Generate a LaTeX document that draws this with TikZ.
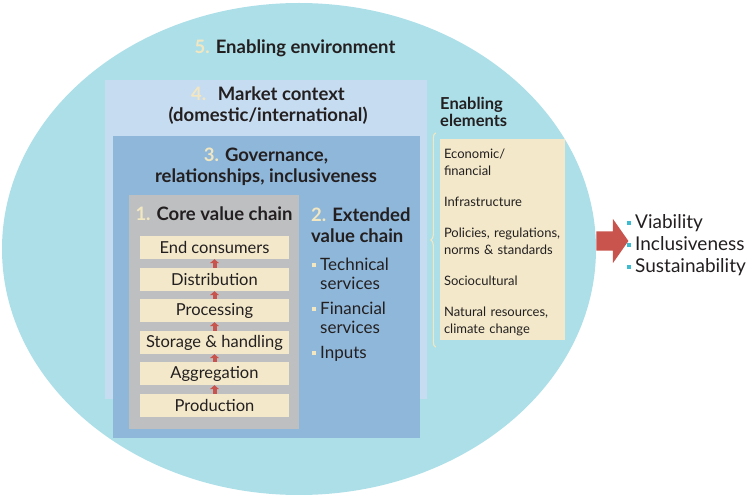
\documentclass[tikz,border=0pt]{standalone}
\usepackage{fontspec}
\setmainfont{Lato}
\usepackage{tikz}
\usetikzlibrary{arrows.meta,shapes.arrows,decorations.pathreplacing,calc}

\definecolor{envcol}{HTML}{ADDFE8}
\definecolor{mktcol}{HTML}{C6DCF0}
\definecolor{govcol}{HTML}{8FB7D9}
\definecolor{corecol}{HTML}{BEBFC1}
\definecolor{beige}{HTML}{F3E9CA}
\definecolor{numcol}{HTML}{F2E7C1}
\definecolor{arrowcol}{HTML}{C9544E}
\definecolor{cyanbul}{HTML}{3DBCCF}
\definecolor{ink}{HTML}{231F20}

\newcommand{\sqbul}[1]{\raisebox{3.5pt}{\textcolor{#1}{\rule{4pt}{4pt}}}\hspace{4pt}}
\newcommand{\num}[1]{\textcolor{numcol}{#1}}

\begin{document}
\begin{tikzpicture}[x=1pt,y=-1pt,
    every node/.style={text=ink,inner sep=0pt},
    title/.style={font=\fontsize{18.5}{21}\selectfont\bfseries,align=center},
    chainbox/.style={fill=beige,minimum width=149pt,minimum height=23pt,font=\fontsize{16.5}{18}\selectfont},
    uparr/.style={arrowcol,line width=4pt,-{Triangle[width=9pt,length=4pt]}}]
    \useasboundingbox (0,0) rectangle (748,497);

    \fill[envcol] (299,249) ellipse (297 and 246);
    \fill[mktcol] (105,80) rectangle (427,399);
    \fill[govcol] (113,136) rectangle (420,438);
    \fill[corecol] (129,195) rectangle (299,429);

    \node[title] (env) at (295,48) {\num{5.} Enabling environment};
    \node[title] (mkt) at (268,106) {\num{4.}\hspace{0.3em} Market context\\(domestic/international)};
    \node[title] (gov) at (266,167) {\num{3.} Governance,\\relationships, inclusiveness};
    \node[title] (core) at (214,214) {\num{1.} Core value chain};
    \node[title,align=left,anchor=west] (ext) at (311,225) {\num{2.} Extended\\value chain};

    \node[chainbox] (endc) at (214.5,247.5) {End consumers};
    \node[chainbox] (dist) at (214.5,279.5) {Distribution};
    \node[chainbox] (proc) at (214.5,310.5) {Processing};
    \node[chainbox] (stor) at (214.5,342.5) {Storage \& handling};
    \node[chainbox] (aggr) at (214.5,373.5) {Aggregation};
    \node[chainbox] (prod) at (214.5,405.5) {Production};

    \draw[uparr] (prod.north) -- (aggr.south);
    \draw[uparr] (aggr.north) -- (stor.south);
    \draw[uparr] (stor.north) -- (proc.south);
    \draw[uparr] (proc.north) -- (dist.south);
    \draw[uparr] (dist.north) -- (endc.south);

    \node[anchor=north west,font=\fontsize{17}{19}\selectfont,align=left] (extlist) at (312,257) {%
      \begin{tabular}{@{}l@{}l@{}}
        \sqbul{numcol} & Technical\\ & services\\[6pt]
        \sqbul{numcol} & Financial\\ & services\\[6pt]
        \sqbul{numcol} & Inputs
      \end{tabular}};

    \node[title,align=left,anchor=west,font=\fontsize{16.5}{17}\selectfont\bfseries] (elhead) at (440,112) {Enabling\\elements};
    \node[fill=beige,minimum width=125pt,minimum height=201pt,text width=117pt,align=left,
          font=\fontsize{13}{17}\selectfont] (elems) at (502.5,239.5) {%
      \rule{0pt}{2pt}\\[-3pt]
      Economic/\\financial\\[14pt]
      Infrastructure\\[14pt]
      Policies, regulations,\\norms \& standards\\[14pt]
      Sociocultural\\[14pt]
      Natural resources,\\climate change};
    \draw[numcol,line width=1.1pt,decorate,decoration={brace,amplitude=5pt}]
      ($(elems.south west)+(-4,7)$) -- ($(elems.north west)+(-4,-6)$);

    \node[single arrow,fill=arrowcol,inner xsep=0pt,inner ysep=9.5pt,minimum height=32pt,minimum width=44pt,
          single arrow head extend=12.5pt,single arrow tip angle=110] (out) at (609,241) {};
    \node[anchor=west,font=\fontsize{19}{22}\selectfont,align=left] (res) at (627,245) {%
      \sqbul{cyanbul}Viability\\
      \sqbul{cyanbul}Inclusiveness\\
      \sqbul{cyanbul}Sustainability};
\end{tikzpicture}
\end{document}
